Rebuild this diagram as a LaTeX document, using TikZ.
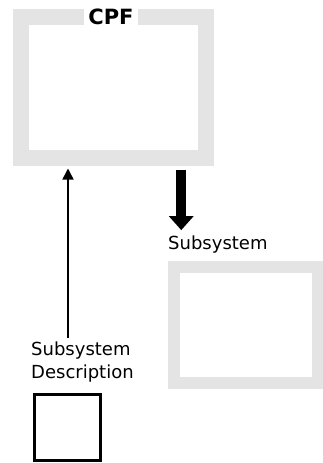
\documentclass[tikz,border=0pt]{standalone}
\usepackage{fontspec}
\setmainfont{DejaVu Sans}
\usetikzlibrary{arrows.meta}
\definecolor{framegray}{RGB}{228,228,228}
\newcommand{\lblsize}{\fontsize{18pt}{23pt}\selectfont}
\newcommand{\cpfsize}{\fontsize{21pt}{21pt}\selectfont\bfseries}
\tikzset{
  grayframe/.style={draw=framegray,inner sep=0pt},
  darkframe/.style={draw=black,line width=3pt,inner sep=0pt,outer sep=1.5pt},
  lbl/.style={inner sep=0pt,font=\lblsize},
  thinarrow/.style={line width=1.6pt,-{Triangle[width=11pt,length=11pt]}},
  fatarrow/.style={line width=10pt,-{Triangle[width=24pt,length=14pt]}}
}

\begin{document}
\begin{tikzpicture}[x=1pt,y=-1pt]
  \useasboundingbox (0,0) rectangle (323,463);
  %% frames
  \node[grayframe,line width=16pt,outer sep=8pt,
    minimum width=185.5pt,minimum height=141pt] (cpf) at (113.25,87) {}; % CPF
  \node[grayframe,line width=12pt,outer sep=6pt,
    minimum width=143.5pt,minimum height=116.5pt] (sub) at (245.75,324.75) {}; % subsystem
  \node[darkframe,minimum width=66pt,minimum height=66pt] (descbox) at (67.5,427.5) {}; % description
  %% labels
  \node[fill=white,inner xsep=4pt,inner ysep=2pt,font=\cpfsize,anchor=base] (cpflbl) at (111,24) {CPF};
  \node[lbl,anchor=base west] (sublbl) at (168,249) {Subsystem};
  \node[lbl,anchor=north west,align=left] (desc) at (31,342) {Subsystem\\Description};
  %% arrows
  \coordinate (upfoot) at ([xshift=37pt,yshift=4pt]desc.north west);
  \coordinate (bigtop) at ([xshift=68pt]cpf.south);
  \draw[thinarrow,shorten >=3pt] (upfoot) -- (upfoot |- cpf.south); % description -> CPF
  \draw[fatarrow,shorten <=4.5pt,shorten >=5pt] (bigtop) -- (bigtop |- sublbl.north); % CPF -> subsystem
\end{tikzpicture}
\end{document}
